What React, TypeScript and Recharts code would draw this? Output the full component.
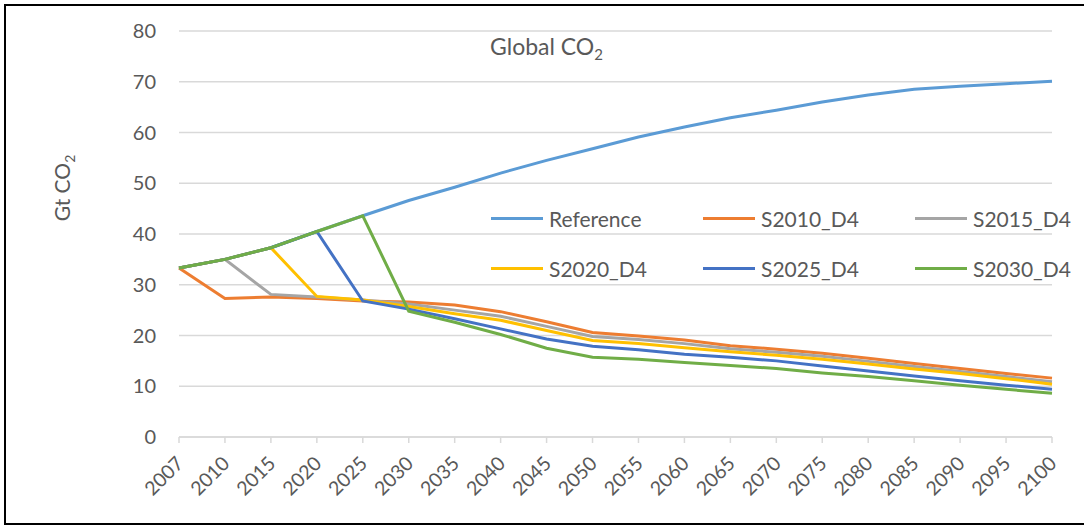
import React from 'react'
import { LineChart, Line, XAxis, YAxis, CartesianGrid, Legend } from 'recharts'

// years on the category axis
const years = [
  '2007', '2010', '2015', '2020', '2025', '2030', '2035', '2040', '2045', '2050',
  '2055', '2060', '2065', '2070', '2075', '2080', '2085', '2090', '2095', '2100',
]

// Gt CO2 per scenario
const reference = [33.3, 35.0, 37.3, 40.5, 43.6, 46.6, 49.2, 52.0, 54.5, 56.8, 59.1, 61.1, 62.9, 64.4, 66.0, 67.4, 68.5, 69.1, 69.6, 70.1]
const s2010 = [33.3, 27.3, 27.6, 27.3, 26.8, 26.6, 26.0, 24.7, 22.7, 20.6, 19.9, 19.1, 18.0, 17.3, 16.5, 15.5, 14.5, 13.5, 12.5, 11.6]
const s2015 = [33.3, 35.0, 28.1, 27.6, 27.0, 26.2, 25.0, 23.8, 21.8, 19.8, 19.2, 18.4, 17.4, 16.7, 15.9, 14.9, 13.9, 12.9, 11.9, 10.9]
const s2020 = [33.3, 35.0, 37.3, 27.7, 27.0, 25.7, 24.3, 23.0, 21.0, 19.0, 18.4, 17.6, 16.8, 16.1, 15.3, 14.4, 13.4, 12.5, 11.5, 10.4]
const s2025 = [33.3, 35.0, 37.3, 40.5, 26.8, 25.2, 23.3, 21.3, 19.3, 17.9, 17.2, 16.3, 15.7, 15.0, 14.0, 13.0, 12.0, 11.1, 10.2, 9.4]
const s2030 = [33.3, 35.0, 37.3, 40.5, 43.6, 24.8, 22.6, 20.2, 17.5, 15.7, 15.3, 14.7, 14.1, 13.5, 12.6, 11.9, 11.1, 10.2, 9.4, 8.6]

const yTicks = [0, 10, 20, 30, 40, 50, 60, 70, 80]

const series = [
  { key: 'Reference', values: reference, color: '#5B9BD5' },
  { key: 'S2010_D4', values: s2010, color: '#ED7D31' },
  { key: 'S2015_D4', values: s2015, color: '#A5A5A5' },
  { key: 'S2020_D4', values: s2020, color: '#FFC000' },
  { key: 'S2025_D4', values: s2025, color: '#4472C4' },
  { key: 'S2030_D4', values: s2030, color: '#70AD47' },
]

const data = years.map((year, i) => {
  const row: Record<string, string | number> = { year }
  series.forEach((s) => { row[s.key] = s.values[i] })
  return row
})

const FONT = 'Lato, "Noto Sans", sans-serif'
const TEXT = '#595959'
const GRID = '#D9D9D9'

function YearTick({ x, y, payload }: any) {
  const ty = y + 15
  return (
    <text
      x={x + 1}
      y={ty}
      dy="0.35em"
      textAnchor="end"
      fill={TEXT}
      fontSize={19.5}
      fontFamily={FONT}
      transform={`rotate(-45, ${x + 1}, ${ty})`}
    >
      {payload.value}
    </text>
  )
}

function LegendGrid({ payload }: any) {
  return (
    <div style={{ display: 'grid', gridTemplateColumns: 'repeat(3, 212px)', gridAutoRows: '50px' }}>
      {(payload || []).map((p: any) => (
        <div key={p.value} style={{ display: 'flex', alignItems: 'center' }}>
          <span style={{ display: 'inline-block', width: 52, height: 3, background: p.color }} />
          <span style={{ marginLeft: 6, fontSize: 21, color: TEXT, fontFamily: FONT }}>{p.value}</span>
        </div>
      ))}
    </div>
  )
}

export default function App() {
  return (
    <div style={{ position: 'absolute', left: 0, top: 0, width: 1084, height: 525, background: '#fff', overflow: 'hidden' }}>
      {/* frame round the chart */}
      <div
        style={{
          position: 'absolute', left: 4, top: 4, width: 1100, height: 521, boxSizing: 'border-box',
          borderTop: '2px solid #000', borderLeft: '2px solid #000', borderBottom: '2px solid #000',
        }}
      />
      <LineChart
        width={1084}
        height={525}
        data={data}
        margin={{ top: 31, right: 32, left: 0, bottom: 28 }}
        style={{ position: 'absolute', left: 0, top: 0 }}
      >
        <CartesianGrid vertical={false} stroke={GRID} strokeWidth={1.5} />
        <XAxis
          dataKey="year"
          interval={0}
          height={60}
          tick={<YearTick />}
          tickSize={6}
          axisLine={{ stroke: GRID, strokeWidth: 1.5 }}
          tickLine={{ stroke: GRID, strokeWidth: 1.5 }}
        />
        <YAxis
          width={179}
          domain={[0, 80]}
          ticks={yTicks}
          axisLine={false}
          tickLine={false}
          tickSize={0}
          tickMargin={23}
          tick={{ fill: TEXT, fontSize: 20, fontFamily: FONT }}
        />
        <Legend
          layout="horizontal"
          verticalAlign="middle"
          content={<LegendGrid />}
          wrapperStyle={{ left: 491, top: 193, width: 640 }}
        />
        {series.map((s) => (
          <Line
            key={s.key}
            dataKey={s.key}
            stroke={s.color}
            strokeWidth={3}
            dot={false}
            activeDot={false}
            type="linear"
            isAnimationActive={false}
          />
        ))}
      </LineChart>
      <svg width={1084} height={525} style={{ position: 'absolute', left: 0, top: 0, pointerEvents: 'none' }}>
        <text x={490} y={55} fill={TEXT} fontSize={23} fontFamily={FONT}>
          Global CO<tspan fontSize={15} dy={5}>2</tspan>
        </text>
        <text
          x={63}
          y={188}
          textAnchor="middle"
          fill={TEXT}
          fontSize={21}
          fontFamily={FONT}
          transform="rotate(-90, 63, 188)"
          dy="0.35em"
        >
          Gt CO<tspan fontSize={14} dy={5}>2</tspan>
        </text>
      </svg>
    </div>
  )
}
